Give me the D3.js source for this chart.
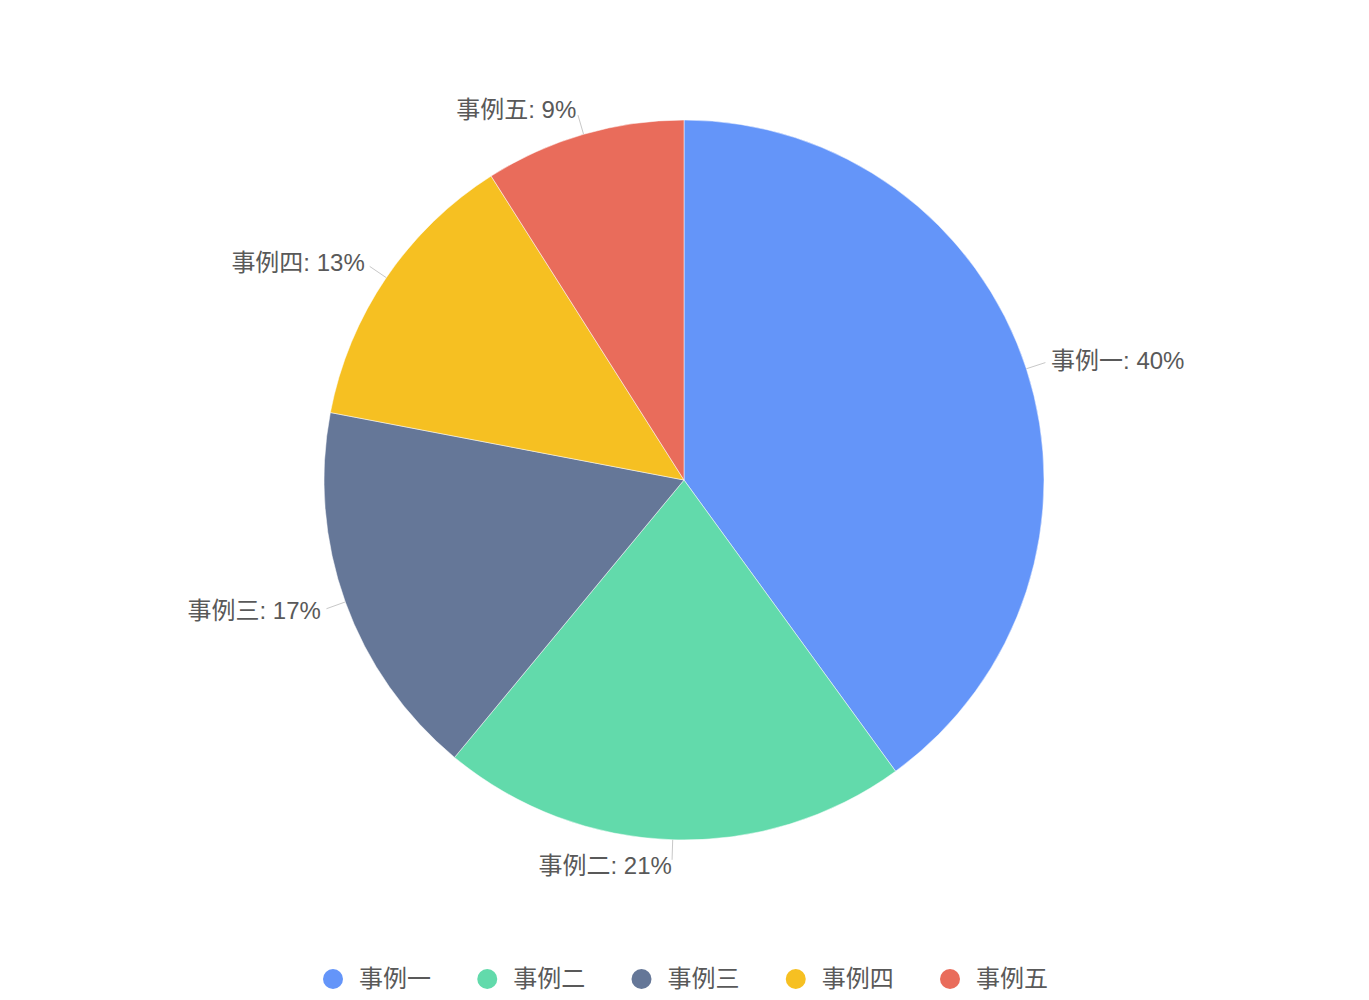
<!DOCTYPE html>
<html>
<head>
<meta charset="utf-8">
<script src="https://cdn.jsdelivr.net/npm/d3@7"></script>
<style>
  body { margin: 0; background: #fff; }
  svg text { font-family: "Liberation Sans", "Noto Sans CJK SC", sans-serif; }
</style>
</head>
<body>
<script>
// data
var categories = ["事例一", "事例二", "事例三", "事例四", "事例五"];
var values = [40, 21, 17, 13, 9];
var colors = ["#6495F9", "#62DAAB", "#657798", "#F6C022", "#E96C5B"];

var width = 1369, height = 1000;
var cx = 684, cy = 480, radius = 360;

var data = categories.map(function(c, i) { return {name: c, value: values[i]}; });
var total = d3.sum(values);

var color = d3.scaleOrdinal().domain(categories).range(colors);

var svg = d3.select("body").append("svg")
    .attr("width", width)
    .attr("height", height);

var g = svg.append("g")
    .attr("transform", "translate(" + cx + "," + cy + ")");

var pie = d3.pie()
    .value(function(d) { return d.value; })
    .sort(null);

var arc = d3.arc().innerRadius(0).outerRadius(radius);

var arcs = pie(data);

g.selectAll("path.slice")
    .data(arcs)
  .enter().append("path")
    .attr("class", "slice")
    .attr("d", arc)
    .attr("fill", function(d) { return color(d.data.name); })
    .attr("stroke", "#fff")
    .attr("stroke-width", 0.5);

// point along the mid angle at distance r
function pt(d, r) {
  var a = (d.startAngle + d.endAngle) / 2;
  return [Math.sin(a) * r, -Math.cos(a) * r];
}

// label lines
g.selectAll("line.lbl")
    .data(arcs)
  .enter().append("line")
    .attr("x1", function(d) { return pt(d, radius)[0]; })
    .attr("y1", function(d) { return pt(d, radius)[1]; })
    .attr("x2", function(d) { return pt(d, radius + 20)[0]; })
    .attr("y2", function(d) { return pt(d, radius + 20)[1]; })
    .attr("stroke", "#c8c8c8")
    .attr("stroke-width", 1);

// labels
g.selectAll("text.lbl")
    .data(arcs)
  .enter().append("text")
    .attr("x", function(d) { return pt(d, radius + 26)[0]; })
    .attr("y", function(d) { return pt(d, radius + 26)[1]; })
    .attr("dy", "0.35em")
    .attr("text-anchor", function(d) { return pt(d, 1)[0] >= 0 ? "start" : "end"; })
    .attr("font-size", 24)
    .attr("fill", "#595959")
    .text(function(d) { return d.data.name + ": " + Math.round(d.data.value / total * 100) + "%"; });

// legend
var legendX = d3.scalePoint().domain(categories).range([333, 950]);
var legend = svg.append("g").attr("transform", "translate(0,979)");
var item = legend.selectAll("g")
    .data(categories)
  .enter().append("g")
    .attr("transform", function(d) { return "translate(" + legendX(d) + ",0)"; });
item.append("circle")
    .attr("r", 10)
    .attr("fill", function(d) { return color(d); });
item.append("text")
    .attr("x", 26)
    .attr("dy", "0.35em")
    .attr("font-size", 24)
    .attr("fill", "#595959")
    .text(function(d) { return d; });
</script>
</body>
</html>
